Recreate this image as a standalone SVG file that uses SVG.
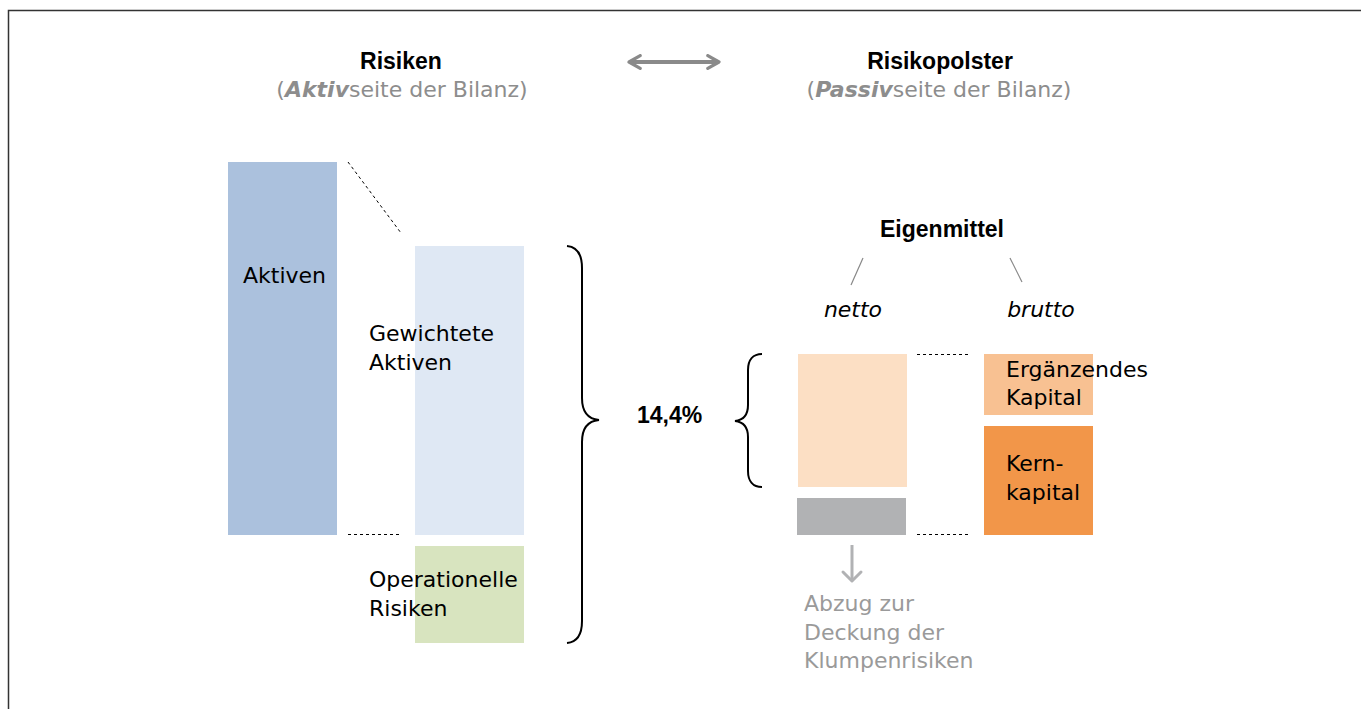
<svg xmlns="http://www.w3.org/2000/svg" width="1361" height="709" viewBox="0 0 1361 709">
<style>
.t{font-family:"DejaVu Sans",sans-serif;font-size:22px;fill:#000}
.g{fill:#9a9a9a}
.h{font-family:"Liberation Sans",Arial,sans-serif;font-weight:bold;font-size:23px;fill:#000;text-anchor:middle}
.sub{font-family:"DejaVu Sans",sans-serif;font-size:22px;fill:#8d8d8d;text-anchor:middle}
.b{font-family:"Liberation Sans",Arial,sans-serif;font-weight:bold;font-size:23px;fill:#000}
.dash{stroke:#000;stroke-width:1;stroke-dasharray:3 3;fill:none}
.brace{stroke:#000;stroke-width:2;fill:none}
</style>
<defs>
<marker id="ah" viewBox="0 0 10 10" refX="8" refY="5" markerWidth="4" markerHeight="4" orient="auto-start-reverse" markerUnits="strokeWidth">
<path d="M1,1 L8,5 L1,9" fill="none" stroke="#8a8a8a" stroke-width="2" stroke-linecap="round" stroke-linejoin="round"/>
</marker>
</defs>
<rect width="1361" height="709" fill="#fff"/>
<path d="M8.5,709 L8.5,10.5 L1361,10.5" fill="none" stroke="#333" stroke-width="1.5"/>

<g id="header-risiken">
<text class="h" x="401" y="69">Risiken</text>
<text class="sub" x="402" y="97">(<tspan font-weight="bold" font-style="italic">Aktiv</tspan>seite der Bilanz)</text>
</g>
<g id="header-risikopolster">
<text class="h" x="940" y="69">Risikopolster</text>
<text class="sub" x="939" y="97">(<tspan font-weight="bold" font-style="italic">Passiv</tspan>seite der Bilanz)</text>
</g>

<g id="aktiven">
<rect x="228" y="162" width="109" height="373" fill="#abc1dd"/>
<text class="t" x="243" y="283">Aktiven</text>
</g>
<g id="gewichtete-aktiven">
<rect x="415" y="246" width="109" height="289" fill="#dfe8f4"/>
<text class="t" x="369" y="341">Gewichtete</text>
<text class="t" x="369" y="370">Aktiven</text>
</g>
<g id="operationelle-risiken">
<rect x="415" y="546" width="109" height="97" fill="#d8e4bf"/>
<text class="t" x="369" y="587">Operationelle</text>
<text class="t" x="369" y="616">Risiken</text>
</g>
<g id="quote">
<text class="b" x="637" y="423">14,4%</text>
</g>
<g id="eigenmittel">
<text class="b" x="942" y="237" text-anchor="middle" font-size="24">Eigenmittel</text>
</g>
<g id="netto">
<text class="t" x="853" y="317" text-anchor="middle" font-style="italic">netto</text>
<rect x="798" y="354" width="109" height="133" fill="#fcdfc4"/>
</g>
<g id="abzug">
<rect x="797" y="498" width="109" height="37" fill="#b1b2b4"/>
<text class="t g" x="804" y="611">Abzug zur</text>
<text class="t g" x="804" y="640">Deckung der</text>
<text class="t g" x="804" y="668">Klumpenrisiken</text>
</g>
<g id="brutto">
<text class="t" x="1041" y="317" text-anchor="middle" font-style="italic">brutto</text>
</g>
<g id="ergaenzendes-kapital">
<rect x="984" y="354" width="109" height="61" fill="#f8c192"/>
<text class="t" x="1006" y="377">Ergänzendes</text>
<text class="t" x="1006" y="405">Kapital</text>
</g>
<g id="kernkapital">
<rect x="984" y="426" width="109" height="109" fill="#f29649"/>
<text class="t" x="1006" y="471">Kern-</text>
<text class="t" x="1006" y="500">kapital</text>
</g>

<g id="connectors">
<line x1="629" y1="62" x2="719" y2="62" stroke="#8a8a8a" stroke-width="4" marker-start="url(#ah)" marker-end="url(#ah)"/>
<line class="dash" x1="348" y1="162" x2="401" y2="233"/>
<line class="dash" x1="348" y1="534.5" x2="402" y2="534.5"/>
<line class="dash" x1="917" y1="354.5" x2="970" y2="354.5"/>
<line class="dash" x1="917" y1="534.5" x2="970" y2="534.5"/>
<path class="brace" d="M567,246 C578,247 582,256 582,268 L582,398 C582,412 588,419 599,420 C588,421 582,428 582,442 L582,621 C582,634 578,642 567,643"/>
<path class="brace" d="M762,354 C753,354 748,360 748,370 L748,405 C748,415 744,420 735,421 C744,422 748,427 748,437 L748,471 C748,481 753,487 762,487"/>
<line x1="863" y1="258" x2="851" y2="285" stroke="#888" stroke-width="1.2"/>
<line x1="1010" y1="258" x2="1022" y2="282" stroke="#888" stroke-width="1.2"/>
<line x1="852" y1="545" x2="852" y2="581" stroke="#b1b2b4" stroke-width="3"/>
<path d="M843,572 L852,581 L861,572" fill="none" stroke="#b1b2b4" stroke-width="3" stroke-linecap="round" stroke-linejoin="round"/>
</g>
</svg>
